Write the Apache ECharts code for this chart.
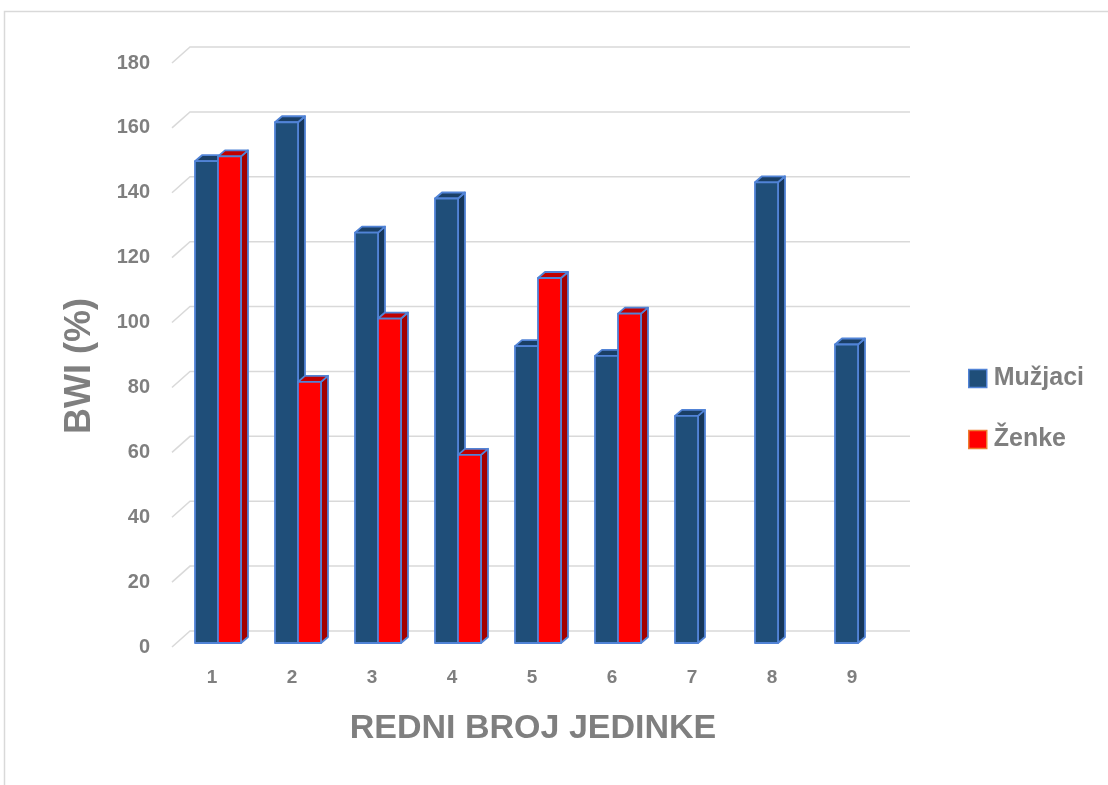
<!DOCTYPE html>
<html>
<head>
<meta charset="utf-8">
<script src="https://cdn.jsdelivr.net/npm/echarts@6/dist/echarts.min.js"></script>
<style>
  html, body { margin: 0; padding: 0; background: #ffffff; }
  #chart { width: 1108px; height: 785px; }
</style>
</head>
<body>
<div id="chart"></div>
<script>
// BWI (%) po rednom broju jedinke
const categories = ['1', '2', '3', '4', '5', '6', '7', '8', '9'];
const muzjaci = [148.5, 160.5, 126.5, 137, 91.5, 88.5, 70, 142, 92];
const zenke = [150, 80.5, 100, 58, 112.5, 101.5, null, null, null];
const yTicks = [0, 20, 40, 60, 80, 100, 120, 140, 160, 180];

const GRAY = '#7f7f7f';
const FONT = '"Liberation Sans", Arial, sans-serif';

// oblique offsets for the pseudo-3D look
const WALL = [18, -16];   // back wall relative to front plane
const SHIFT = [6, -4];    // bar front face relative to front plane
const DEPTH = [7, -6];    // bar depth

const palettes = [
  { front: '#1f4e79', side: '#16375a', top: '#1a3f66', edge: '#5183d6' },
  { front: '#ff0000', side: '#a30000', top: '#c00000', edge: '#5183d6' }
];

function barRenderer(seriesIdx) {
  return function (params, api) {
    const i = api.value(0);
    const v = api.value(1);
    const base = api.coord([i, 0]);
    const topPt = api.coord([i, v]);
    const band = api.size([1, 0])[0];
    const w = band * 0.2875;
    const x0 = base[0] - w + seriesIdx * w + SHIFT[0];
    const yb = base[1] + SHIFT[1];
    const yt = topPt[1] + SHIFT[1];
    const pal = palettes[seriesIdx];
    const stroke = { stroke: pal.edge, lineWidth: 1.8, lineJoin: 'round' };
    return {
      type: 'group',
      children: [
        {
          type: 'polygon',
          shape: { points: [[x0 + w, yt], [x0 + w + DEPTH[0], yt + DEPTH[1]], [x0 + w + DEPTH[0], yb + DEPTH[1]], [x0 + w, yb]] },
          style: Object.assign({ fill: pal.side }, stroke)
        },
        {
          type: 'polygon',
          shape: { points: [[x0, yt], [x0 + DEPTH[0], yt + DEPTH[1]], [x0 + w + DEPTH[0], yt + DEPTH[1]], [x0 + w, yt]] },
          style: Object.assign({ fill: pal.top }, stroke)
        },
        {
          type: 'rect',
          shape: { x: x0, y: yt, width: w, height: yb - yt },
          style: Object.assign({ fill: pal.front }, stroke)
        }
      ]
    };
  };
}

function toPoints(values) {
  const out = [];
  values.forEach(function (v, i) { if (v !== null) out.push([i, v]); });
  return out;
}

const chart = echarts.init(document.getElementById('chart'), null, { renderer: 'canvas' });

chart.setOption({
  backgroundColor: '#ffffff',
  animation: false,
  grid: { left: 172, right: 216, top: 63, bottom: 138, containLabel: false },
  xAxis: {
    type: 'category',
    data: categories,
    axisLine: { show: false },
    axisTick: { show: false },
    splitLine: { show: false },
    axisLabel: { color: GRAY, fontFamily: FONT, fontWeight: 'bold', fontSize: 19, margin: 21 }
  },
  yAxis: {
    type: 'value',
    min: 0,
    max: 180,
    interval: 20,
    axisLine: { show: false },
    axisTick: { show: false },
    splitLine: { show: false },
    axisLabel: { color: GRAY, fontFamily: FONT, fontWeight: 'bold', fontSize: 20, margin: 22 }
  },
  legend: {
    orient: 'vertical',
    left: 963,
    top: 361,
    itemWidth: 18,
    itemHeight: 18,
    itemGap: 36,
    icon: 'rect',
    selectedMode: false,
    textStyle: { color: GRAY, fontFamily: FONT, fontWeight: 'bold', fontSize: 25, padding: [0, 0, 0, 2] },
    data: [
      { name: 'Mužjaci', itemStyle: { color: '#1f4e79', borderColor: '#5183d6', borderWidth: 1.5 } },
      { name: 'Ženke', itemStyle: { color: '#ff0000', borderColor: '#ed7d31', borderWidth: 1.5 } }
    ]
  },
  graphic: [
    {
      type: 'rect',
      shape: { x: 4.5, y: 11.5, width: 1300, height: 1000 },
      style: { fill: null, stroke: '#d9d9d9', lineWidth: 1.5 },
      silent: true,
      z: -10
    },
    {
      type: 'text',
      x: 80,
      y: 366,
      rotation: Math.PI / 2,
      style: { text: 'BWI (%)', fill: GRAY, font: 'bold 36px ' + FONT, textAlign: 'center', textVerticalAlign: 'middle' }
    },
    {
      type: 'text',
      x: 533,
      y: 729,
      style: { text: 'REDNI BROJ JEDINKE', fill: GRAY, font: 'bold 34px ' + FONT, textAlign: 'center', textVerticalAlign: 'middle' }
    }
  ],
  series: [
    {
      name: 'grid-walls',
      type: 'custom',
      silent: true,
      z: 0,
      clip: false,
      data: yTicks.map(function (v) { return [0, v]; }),
      renderItem: function (params, api) {
        const p = api.coord([0, api.value(1)]);
        const cs = params.coordSys;
        return {
          type: 'polyline',
          shape: { points: [[cs.x, p[1]], [cs.x + WALL[0], p[1] + WALL[1]], [cs.x + cs.width + WALL[0], p[1] + WALL[1]]] },
          style: { stroke: '#d9d9d9', lineWidth: 1.5, fill: null }
        };
      }
    },
    {
      name: 'Mužjaci',
      type: 'custom',
      z: 2,
      clip: false,
      itemStyle: { color: '#1f4e79' },
      data: toPoints(muzjaci),
      encode: { x: 0, y: 1 },
      renderItem: barRenderer(0)
    },
    {
      name: 'Ženke',
      type: 'custom',
      z: 3,
      clip: false,
      itemStyle: { color: '#ff0000' },
      data: toPoints(zenke),
      encode: { x: 0, y: 1 },
      renderItem: barRenderer(1)
    }
  ]
});
</script>
</body>
</html>
